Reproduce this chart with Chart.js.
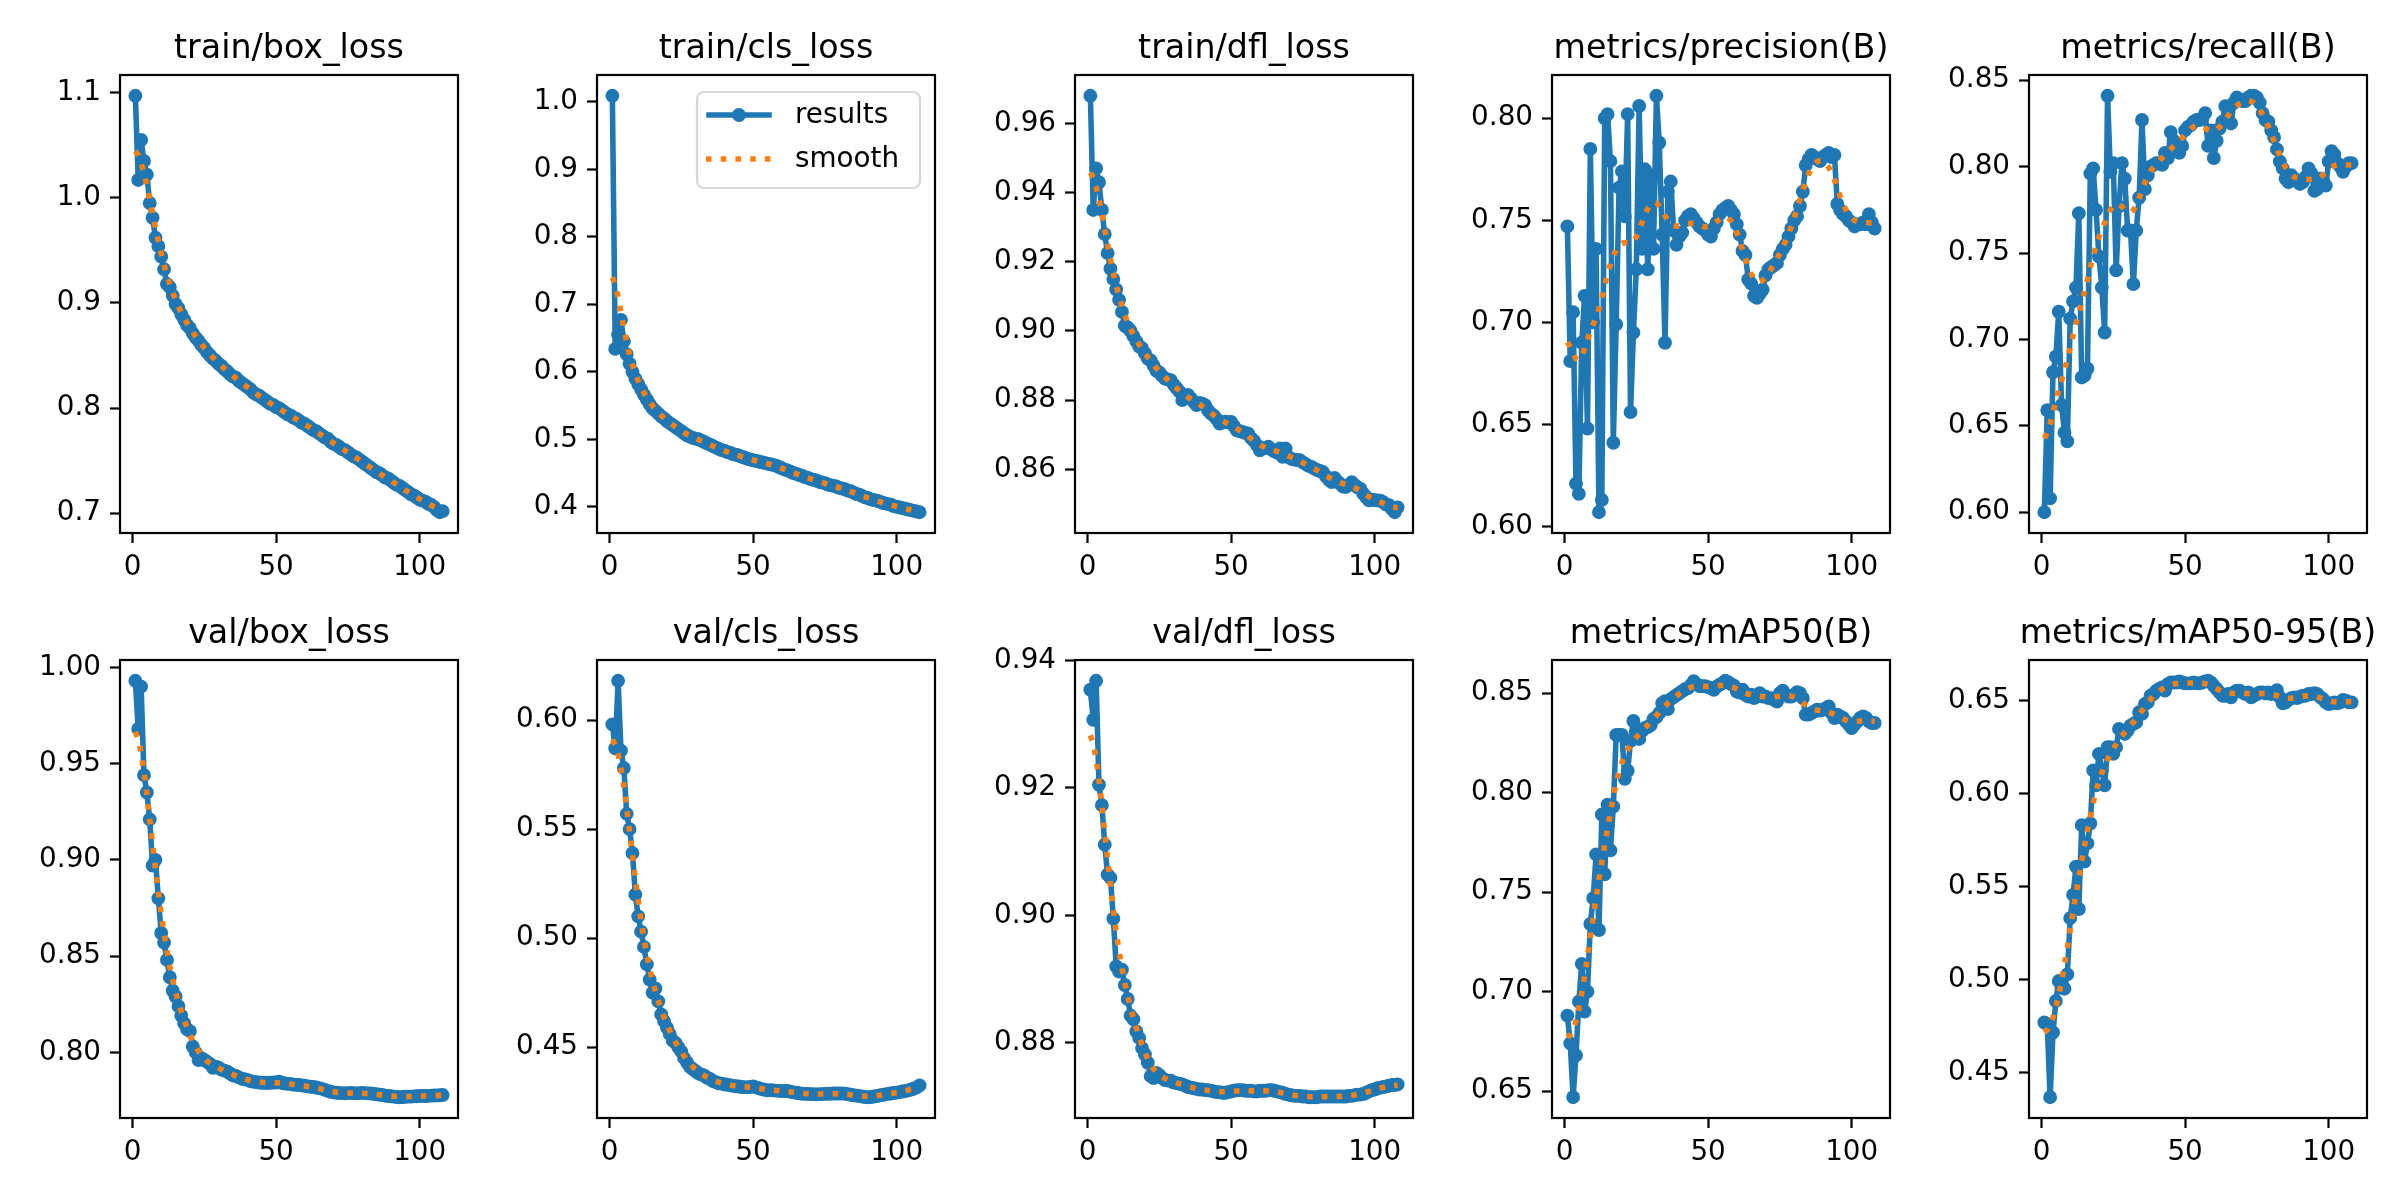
<!DOCTYPE html>
<html>
<head>
<meta charset="utf-8">
<script src="https://cdn.jsdelivr.net/npm/chart.js@4.4.1/dist/chart.umd.min.js"></script>
<style>
    body { margin: 0; background: #ffffff; width: 2400px; height: 1200px; position: relative; overflow: hidden; }
    canvas { position: absolute; }
</style>
</head>
<body>
<script>

// epochs 1..108
var epochs = [];
for (var e = 1; e <= 108; e++) { epochs.push(e); }

var xTickLabels = ['0', '50', '100'];

var titles = ['train/box_loss', 'train/cls_loss', 'train/dfl_loss', 'metrics/precision(B)', 'metrics/recall(B)',
              'val/box_loss', 'val/cls_loss', 'val/dfl_loss', 'metrics/mAP50(B)', 'metrics/mAP50-95(B)'];

var trainBoxLoss = [1.097,1.017,1.055,1.035,1.022,0.995,0.981,0.962,0.954,0.944,
    0.932,0.918,0.915,0.907,0.899,0.895,0.889,0.884,0.879,0.876,
    0.871,0.867,0.864,0.860,0.857,0.853,0.850,0.847,0.845,0.842,
    0.840,0.837,0.835,0.832,0.830,0.829,0.826,0.824,0.822,0.820,
    0.818,0.815,0.813,0.812,0.810,0.808,0.806,0.804,0.803,0.801,
    0.800,0.798,0.796,0.794,0.793,0.791,0.790,0.788,0.786,0.785,
    0.783,0.781,0.779,0.778,0.776,0.774,0.772,0.771,0.768,0.766,
    0.765,0.763,0.761,0.760,0.758,0.756,0.754,0.753,0.751,0.749,
    0.747,0.745,0.743,0.741,0.739,0.738,0.736,0.734,0.733,0.731,
    0.729,0.727,0.726,0.724,0.722,0.720,0.718,0.717,0.715,0.713,
    0.712,0.711,0.709,0.708,0.706,0.703,0.701,0.702];

var trainClsLoss = [1.009,0.634,0.655,0.677,0.645,0.626,0.612,0.600,0.590,0.582,
    0.574,0.566,0.559,0.552,0.546,0.542,0.538,0.534,0.531,0.527,
    0.524,0.521,0.518,0.515,0.512,0.509,0.506,0.504,0.502,0.501,
    0.500,0.498,0.496,0.494,0.492,0.490,0.488,0.486,0.484,0.483,
    0.481,0.480,0.478,0.477,0.476,0.474,0.473,0.471,0.470,0.469,
    0.468,0.467,0.466,0.465,0.464,0.463,0.462,0.461,0.459,0.457,
    0.455,0.454,0.452,0.450,0.449,0.447,0.446,0.444,0.443,0.441,
    0.440,0.439,0.437,0.436,0.435,0.433,0.432,0.431,0.430,0.428,
    0.427,0.426,0.424,0.423,0.421,0.419,0.418,0.416,0.414,0.413,
    0.411,0.410,0.409,0.408,0.406,0.405,0.404,0.403,0.401,0.400,
    0.399,0.398,0.397,0.396,0.395,0.394,0.393,0.392];

var trainDflLoss = [0.968,0.935,0.947,0.943,0.935,0.928,0.9225,0.918,0.915,0.912,
    0.909,0.9055,0.9015,0.901,0.900,0.8985,0.897,0.8955,0.895,0.8935,
    0.892,0.8915,0.890,0.8885,0.888,0.887,0.8862,0.886,0.8858,0.8845,
    0.8835,0.8825,0.880,0.8812,0.8815,0.8805,0.8795,0.8786,0.8792,0.879,
    0.8785,0.877,0.8761,0.8755,0.8745,0.8732,0.8735,0.8738,0.8736,0.8737,
    0.8725,0.8713,0.871,0.8708,0.8705,0.8703,0.869,0.8682,0.867,0.8655,
    0.866,0.8662,0.8665,0.8658,0.8652,0.8648,0.866,0.8636,0.866,0.8635,
    0.863,0.8628,0.8627,0.8626,0.862,0.8615,0.861,0.8607,0.8602,0.8598,
    0.8595,0.8592,0.858,0.857,0.8563,0.8575,0.8565,0.8558,0.855,0.8549,
    0.8555,0.8563,0.8555,0.8548,0.8544,0.853,0.852,0.851,0.8512,0.8511,
    0.851,0.8509,0.8505,0.8498,0.8496,0.8485,0.8476,0.849];

var precision = [0.747,0.681,0.705,0.621,0.616,0.690,0.713,0.648,0.785,0.700,
    0.736,0.607,0.613,0.800,0.802,0.779,0.641,0.699,0.766,0.774,
    0.752,0.802,0.656,0.695,0.726,0.806,0.736,0.775,0.726,0.772,
    0.736,0.811,0.788,0.743,0.690,0.764,0.769,0.745,0.738,0.742,
    0.744,0.750,0.752,0.753,0.751,0.749,0.747,0.746,0.745,0.743,
    0.742,0.746,0.749,0.753,0.755,0.756,0.757,0.755,0.753,0.748,
    0.743,0.735,0.733,0.721,0.719,0.713,0.712,0.714,0.716,0.723,
    0.726,0.727,0.728,0.729,0.733,0.736,0.738,0.742,0.746,0.750,
    0.752,0.757,0.764,0.777,0.780,0.782,0.781,0.780,0.779,0.781,
    0.782,0.783,0.781,0.782,0.758,0.755,0.753,0.752,0.750,0.749,
    0.747,0.748,0.748,0.749,0.748,0.753,0.749,0.746];

var recall = [0.600,0.659,0.608,0.681,0.690,0.716,0.662,0.646,0.641,0.712,
    0.722,0.730,0.773,0.678,0.679,0.683,0.796,0.799,0.775,0.748,
    0.730,0.704,0.841,0.797,0.802,0.740,0.777,0.802,0.793,0.763,
    0.763,0.732,0.763,0.782,0.827,0.787,0.795,0.800,0.801,0.802,
    0.802,0.801,0.808,0.805,0.820,0.815,0.811,0.808,0.812,0.821,
    0.823,0.824,0.826,0.827,0.827,0.828,0.831,0.812,0.821,0.805,
    0.815,0.822,0.826,0.835,0.830,0.825,0.837,0.840,0.839,0.838,
    0.838,0.840,0.841,0.841,0.840,0.837,0.831,0.827,0.826,0.821,
    0.817,0.810,0.803,0.799,0.793,0.791,0.795,0.793,0.792,0.790,
    0.791,0.794,0.799,0.796,0.786,0.787,0.793,0.792,0.789,0.803,
    0.809,0.807,0.802,0.800,0.797,0.800,0.802,0.802];

var valBoxLoss = [0.993,0.968,0.990,0.944,0.935,0.921,0.897,0.900,0.880,0.862,
    0.857,0.848,0.839,0.832,0.829,0.824,0.819,0.815,0.812,0.811,
    0.803,0.800,0.796,0.797,0.796,0.795,0.794,0.792,0.7925,0.792,
    0.791,0.7905,0.790,0.789,0.788,0.7877,0.787,0.7863,0.786,0.7857,
    0.785,0.7848,0.7845,0.7843,0.7842,0.7842,0.7841,0.7842,0.7843,0.7843,
    0.7848,0.7842,0.7838,0.7837,0.7836,0.7832,0.7831,0.783,0.7828,0.7826,
    0.7823,0.7821,0.782,0.7817,0.7814,0.781,0.7805,0.780,0.7795,0.7792,
    0.779,0.7788,0.7788,0.7787,0.7788,0.7789,0.7788,0.7787,0.7788,0.7789,
    0.7788,0.7787,0.7786,0.7784,0.7782,0.778,0.7778,0.7775,0.7773,0.7772,
    0.777,0.7768,0.7767,0.7768,0.7769,0.777,0.777,0.7771,0.7772,0.7773,
    0.7774,0.7773,0.7774,0.7775,0.7776,0.7776,0.7777,0.7778];

var valClsLoss = [0.598,0.587,0.618,0.586,0.578,0.557,0.550,0.539,0.520,0.510,
    0.503,0.496,0.488,0.481,0.475,0.477,0.471,0.465,0.462,0.459,
    0.456,0.453,0.452,0.450,0.448,0.445,0.443,0.441,0.440,0.439,
    0.438,0.4375,0.437,0.436,0.4355,0.4345,0.434,0.4335,0.4333,0.433,
    0.4328,0.4326,0.4323,0.4321,0.432,0.4318,0.4317,0.4316,0.4318,0.432,
    0.4316,0.4312,0.4308,0.4305,0.4302,0.4303,0.4302,0.4301,0.430,0.4299,
    0.4299,0.4299,0.4296,0.4293,0.4291,0.4289,0.4287,0.4286,0.4286,0.4285,
    0.4285,0.4284,0.4285,0.4285,0.4286,0.4287,0.4287,0.4288,0.4288,0.4288,
    0.4288,0.4287,0.4285,0.4282,0.428,0.4278,0.4276,0.4274,0.4272,0.4271,
    0.4272,0.4274,0.4276,0.4279,0.4281,0.4284,0.4286,0.4288,0.429,0.4292,
    0.4294,0.4297,0.4299,0.4302,0.4306,0.431,0.4316,0.4325];

var valDflLoss = [0.9354,0.9307,0.9368,0.9205,0.9173,0.9111,0.9064,0.9059,0.8995,0.892,
    0.8912,0.8915,0.8891,0.8869,0.8843,0.8837,0.8818,0.8808,0.8792,0.8782,
    0.8769,0.8748,0.8745,0.8753,0.875,0.8745,0.8742,0.8741,0.8741,0.8738,
    0.8737,0.8736,0.8735,0.8733,0.8731,0.873,0.8729,0.8728,0.8727,0.8727,
    0.8726,0.8726,0.8725,0.8724,0.8723,0.8723,0.8722,0.8722,0.8723,0.8724,
    0.8725,0.8726,0.8726,0.8726,0.8725,0.8725,0.8725,0.8724,0.8724,0.8725,
    0.8725,0.8725,0.8726,0.8726,0.8725,0.8724,0.8723,0.8722,0.872,0.8719,
    0.8718,0.8717,0.8717,0.8717,0.8716,0.8716,0.8715,0.8715,0.8715,0.8715,
    0.8716,0.8716,0.8716,0.8716,0.8716,0.8716,0.8716,0.8716,0.8716,0.8716,
    0.8717,0.8717,0.8718,0.8719,0.8719,0.872,0.8722,0.8724,0.8726,0.8727,
    0.8729,0.873,0.8731,0.8732,0.8733,0.8734,0.8734,0.8735];

var mAP50 = [0.688,0.674,0.647,0.668,0.695,0.714,0.690,0.700,0.734,0.747,
    0.769,0.731,0.789,0.759,0.794,0.771,0.793,0.829,0.829,0.829,
    0.807,0.811,0.826,0.836,0.831,0.827,0.831,0.8325,0.833,0.834,
    0.837,0.838,0.840,0.845,0.846,0.842,0.847,0.848,0.849,0.850,
    0.851,0.852,0.8525,0.854,0.856,0.8545,0.8535,0.8535,0.8535,0.853,
    0.8525,0.8517,0.8533,0.8542,0.855,0.8562,0.8555,0.8545,0.8538,0.8508,
    0.8503,0.8517,0.8492,0.8483,0.8492,0.8475,0.8483,0.850,0.8483,0.8483,
    0.8475,0.8475,0.8467,0.8458,0.850,0.8512,0.8492,0.8483,0.8483,0.8492,
    0.8505,0.850,0.8475,0.8392,0.8392,0.840,0.8408,0.8417,0.8412,0.8417,
    0.8425,0.8433,0.840,0.8375,0.8392,0.8383,0.8375,0.8358,0.8342,0.8325,
    0.8342,0.8358,0.8375,0.8383,0.8375,0.8358,0.835,0.835];

var mAP50_95 = [0.4768,0.4759,0.4366,0.4714,0.4884,0.4991,0.4955,0.495,0.5027,0.533,
    0.5455,0.5607,0.5379,0.583,0.5634,0.5732,0.5839,0.6125,0.6045,0.6214,
    0.6125,0.6045,0.625,0.625,0.6214,0.625,0.6348,0.633,0.6321,0.6339,
    0.6366,0.6375,0.6384,0.6438,0.6429,0.6482,0.6491,0.6527,0.6536,0.6554,
    0.6563,0.6571,0.6554,0.6589,0.6598,0.6598,0.6598,0.6604,0.6598,0.6593,
    0.6593,0.6593,0.6598,0.6593,0.6593,0.6598,0.6604,0.6607,0.6598,0.658,
    0.6563,0.6545,0.6527,0.6527,0.6536,0.6518,0.6545,0.6554,0.6554,0.6545,
    0.6536,0.6545,0.6518,0.6527,0.6536,0.6545,0.6545,0.6539,0.6545,0.6536,
    0.6545,0.6557,0.6518,0.6486,0.6491,0.6504,0.6514,0.6518,0.6514,0.6521,
    0.6527,0.6527,0.6536,0.6536,0.654,0.6536,0.6521,0.6509,0.6491,0.6482,
    0.6486,0.6491,0.6486,0.6491,0.6504,0.65,0.6491,0.6491];

var yTickLabels = [
    ['0.7', '0.8', '0.9', '1.0', '1.1'],
    ['0.4', '0.5', '0.6', '0.7', '0.8', '0.9', '1.0'],
    ['0.86', '0.88', '0.90', '0.92', '0.94', '0.96'],
    ['0.60', '0.65', '0.70', '0.75', '0.80'],
    ['0.60', '0.65', '0.70', '0.75', '0.80', '0.85'],
    ['0.80', '0.85', '0.90', '0.95', '1.00'],
    ['0.45', '0.50', '0.55', '0.60'],
    ['0.88', '0.90', '0.92', '0.94'],
    ['0.65', '0.70', '0.75', '0.80', '0.85'],
    ['0.45', '0.50', '0.55', '0.60', '0.65']
];

var panelValues = [trainBoxLoss, trainClsLoss, trainDflLoss, precision, recall,
                   valBoxLoss, valClsLoss, valDflLoss, mAP50, mAP50_95];

// layout of the axes boxes (page pixels)
var colLeft = [120, 597, 1075, 1552, 2029];
var rowTop = [75, 660];
var BOX_W = 338, BOX_H = 458;
var PAD_L = 110, PAD_T = 70, PAD_R = 20, PAD_B = 70;

var BLUE = '#1f77b4', ORANGE = '#ff7f0e';
var LW = 5.56;
var FONT = 'DejaVu Sans';

Chart.defaults.font.family = FONT;
Chart.defaults.font.size = 27.8;
Chart.defaults.color = '#000000';

// same smoothing as the results plot (gaussian, sigma 3, reflect edges)
function smoothSeries(y) {
    var sigma = 3, r = 12, w = [], sum = 0, k;
    for (k = -r; k <= r; k++) { w.push(Math.exp(-0.5 * k * k / (sigma * sigma))); sum += w[w.length - 1]; }
    var n = y.length, out = [];
    for (var i = 0; i < n; i++) {
        var s = 0;
        for (k = -r; k <= r; k++) {
            var j = i + k;
            while (j < 0 || j >= n) {
                if (j < 0) j = -j - 1;
                if (j >= n) j = 2 * n - j - 1;
            }
            s += w[k + r] * y[j];
        }
        out.push(s / sum);
    }
    return out;
}

var framePlugin = {
    id: 'frame',
    afterDatasetsDraw: function (chart) {
        var a = chart.chartArea, ctx = chart.ctx;
        ctx.save();
        ctx.strokeStyle = '#000000';
        ctx.lineWidth = 2.2;
        ctx.strokeRect(a.left, a.top, a.right - a.left, a.bottom - a.top);
        ctx.restore();
    },
    afterDraw: function (chart) {
        var a = chart.chartArea, ctx = chart.ctx;
        var opts = chart.options.plugins.frame;
        ctx.save();
        ctx.fillStyle = '#000000';
        ctx.font = '33.3px "' + FONT + '"';
        ctx.textAlign = 'center';
        ctx.textBaseline = 'alphabetic';
        ctx.fillText(opts.title, (a.left + a.right) / 2, a.top - 17);
        if (opts.legend) {
            drawLegend(ctx, a);
        }
        ctx.restore();
    }
};

function drawLegend(ctx, a) {
    var bx = a.right - 238, by = a.top + 17, bw = 223, bh = 96, r = 7;
    ctx.save();
    ctx.beginPath();
    ctx.moveTo(bx + r, by);
    ctx.arcTo(bx + bw, by, bx + bw, by + bh, r);
    ctx.arcTo(bx + bw, by + bh, bx, by + bh, r);
    ctx.arcTo(bx, by + bh, bx, by, r);
    ctx.arcTo(bx, by, bx + bw, by, r);
    ctx.closePath();
    ctx.fillStyle = 'rgba(255,255,255,0.8)';
    ctx.fill();
    ctx.strokeStyle = 'rgba(204,204,204,0.8)';
    ctx.lineWidth = 2.2;
    ctx.stroke();

    var y1 = by + 23, y2 = by + 67;
    // results handle
    ctx.strokeStyle = BLUE;
    ctx.lineWidth = LW;
    ctx.lineCap = 'square';
    ctx.beginPath(); ctx.moveTo(bx + 12, y1); ctx.lineTo(bx + 72, y1); ctx.stroke();
    ctx.fillStyle = BLUE;
    ctx.beginPath(); ctx.arc(bx + 42, y1, 6.95, 0, Math.PI * 2); ctx.fill();
    // smooth handle
    ctx.strokeStyle = ORANGE;
    ctx.lineCap = 'butt';
    ctx.setLineDash([5.56, 9.17]);
    ctx.beginPath(); ctx.moveTo(bx + 9, y2); ctx.lineTo(bx + 75, y2); ctx.stroke();
    ctx.setLineDash([]);

    ctx.fillStyle = '#000000';
    ctx.font = '27.8px "' + FONT + '"';
    ctx.textAlign = 'left';
    ctx.textBaseline = 'middle';
    ctx.fillText('results', bx + 98, y1 + 1);
    ctx.fillText('smooth', bx + 98, y2 + 1);
    ctx.restore();
}

function CreatePanel(index) {
    var values = panelValues[index];
    var tickLabels = yTickLabels[index];
    var lo = Math.min.apply(null, values), hi = Math.max.apply(null, values);
    var m = (hi - lo) * 0.05;
    var yMin = lo - m, yMax = hi + m;
    var xMin = epochs[0] - 0.05 * (epochs[epochs.length - 1] - epochs[0]);
    var xMax = epochs[epochs.length - 1] + 0.05 * (epochs[epochs.length - 1] - epochs[0]);

    var canvas = document.createElement('canvas');
    canvas.width = BOX_W + PAD_L + PAD_R;
    canvas.height = BOX_H + PAD_T + PAD_B;
    canvas.style.left = (colLeft[index % 5] - PAD_L) + 'px';
    canvas.style.top = (rowTop[Math.floor(index / 5)] - PAD_T) + 'px';
    document.body.appendChild(canvas);

    var smooth = smoothSeries(values);
    var resultPoints = [], smoothPoints = [];
    for (var i = 0; i < epochs.length; i++) {
        resultPoints.push({ x: epochs[i], y: values[i] });
        smoothPoints.push({ x: epochs[i], y: smooth[i] });
    }

    var gridOpts = {
        display: true,
        drawOnChartArea: false,
        drawTicks: true,
        tickLength: 10,
        tickWidth: 2.2,
        tickColor: '#000000'
    };

    new Chart(canvas.getContext('2d'), {
        type: 'line',
        data: {
            datasets: [{
                label: 'results',
                data: resultPoints,
                borderColor: BLUE,
                borderWidth: LW,
                borderJoinStyle: 'round',
                borderCapStyle: 'square',
                pointRadius: 5.56,
                pointBorderWidth: 2.78,
                pointBackgroundColor: BLUE,
                pointBorderColor: BLUE,
                tension: 0,
                fill: false,
                order: 1
            }, {
                label: 'smooth',
                data: smoothPoints,
                borderColor: ORANGE,
                borderWidth: LW,
                borderDash: [5.56, 9.17],
                borderCapStyle: 'butt',
                pointRadius: 0,
                tension: 0,
                fill: false,
                order: 0
            }]
        },
        options: {
            responsive: false,
            animation: false,
            devicePixelRatio: 1,
            events: [],
            layout: { padding: { left: 0, top: PAD_T, right: PAD_R, bottom: 0 } },
            plugins: {
                legend: { display: false },
                title: { display: false },
                tooltip: { enabled: false },
                frame: { title: titles[index], legend: index === 1 }
            },
            scales: {
                x: {
                    type: 'linear',
                    min: xMin,
                    max: xMax,
                    grid: gridOpts,
                    border: { display: false },
                    ticks: {
                        padding: 8,
                        autoSkip: false,
                        maxRotation: 0,
                        callback: function (v) { return String(v); }
                    },
                    afterBuildTicks: function (axis) {
                        axis.ticks = xTickLabels.map(function (t) { return { value: parseFloat(t) }; });
                    },
                    afterFit: function (axis) { axis.height = PAD_B; }
                },
                y: {
                    type: 'linear',
                    min: yMin,
                    max: yMax,
                    grid: gridOpts,
                    border: { display: false },
                    ticks: {
                        padding: 9,
                        autoSkip: false,
                        callback: function (v) {
                            for (var k = 0; k < tickLabels.length; k++) {
                                if (Math.abs(parseFloat(tickLabels[k]) - v) < 1e-9) return tickLabels[k];
                            }
                            return '';
                        }
                    },
                    afterBuildTicks: function (axis) {
                        axis.ticks = tickLabels.map(function (t) { return { value: parseFloat(t) }; })
                            .filter(function (t) { return t.value >= yMin && t.value <= yMax; });
                    },
                    afterFit: function (axis) { axis.width = PAD_L; }
                }
            }
        },
        plugins: [framePlugin]
    });
}

function CreateCharts() {
    for (var i = 0; i < panelValues.length; i++) {
        CreatePanel(i);
    }
}

CreateCharts();
</script>
</body>
</html>
